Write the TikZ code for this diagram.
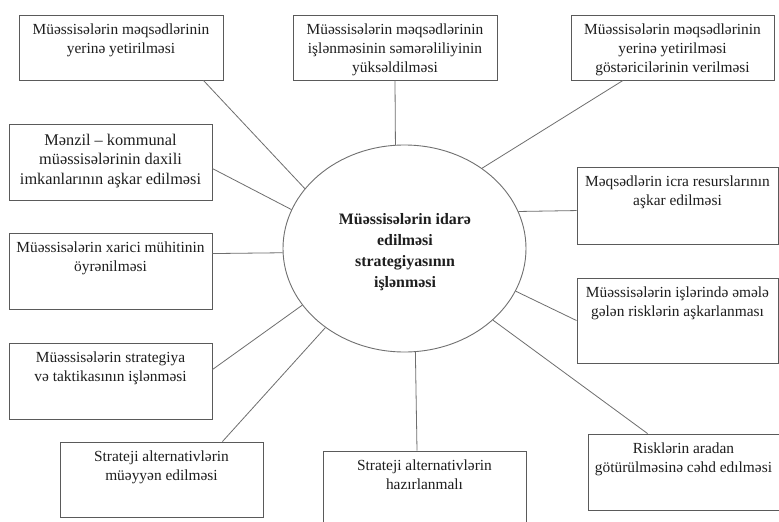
\documentclass[tikz,border=0pt]{standalone}
\usepackage{fontspec}
\setmainfont{Liberation Serif}
\usetikzlibrary{shapes.geometric}

\definecolor{boxgray}{HTML}{5A5A5A}
\definecolor{linegray}{HTML}{6E6E6E}
\definecolor{ellgray}{HTML}{707070}
\definecolor{inkblack}{HTML}{1E1E1E}

% empty framed box given by its corners: name, left, top, right, bottom
\newcommand\infobox[5]{%
  \node[boxframe, minimum width={#4-#2}, minimum height={#5-#3}]
    (#1) at ({(#2+#4)/2},{(#3+#5)/2}) {};}

\begin{document}
\begin{tikzpicture}[x=1pt, y=-1pt,
  boxframe/.style={draw=boxgray, line width=0.9pt, inner sep=0pt, rectangle, fill=white},
  boxtext/.style={anchor=north, inner sep=0pt, align=center, text=inkblack,
    font=\fontsize{15.4}{18.7}\selectfont},
  bigtext/.style={boxtext, font=\fontsize{16.3}{19.5}\selectfont},
  hubtext/.style={inner sep=0pt, align=center, text=inkblack,
    font=\fontsize{15.9}{21}\selectfont\bfseries},
  link/.style={draw=linegray, line width=0.8pt},
]
\clip (0,0) rectangle (779,522);
\fill[white] (0,0) rectangle (779,522);

% central ellipse
\node[ellipse, draw=ellgray, line width=0.9pt, minimum width=243pt,
      minimum height=207pt, inner sep=0pt] (c) at (404.5,248.5) {};
\node[hubtext] (ct) at (405,252)
  {Müəssisələrin idarə\\ edilməsi\\ strategiyasının\\ işlənməsi};

% surrounding boxes
\infobox{b1}{19}{15}{223}{80}
\infobox{b2}{293}{15}{497}{80}
\infobox{b3}{571}{15}{774}{80}
\infobox{b4}{9}{124}{212}{200}
\infobox{b5}{9}{233}{212}{309}
\infobox{b6}{9}{343}{212}{419}
\infobox{b7}{60}{442}{263}{517}
\infobox{b8}{323}{451}{526}{530}
\infobox{b9}{577}{167}{778}{244}
\infobox{b10}{577}{278}{778}{363}
\infobox{b11}{588}{434}{781}{510}

\node[boxtext] (t1) at ([yshift=-9.5pt]b1.north)
  {Müəssisələrin məqsədlərinin\\ yerinə yetirilməsi};
\node[boxtext] (t2) at ([yshift=-9.5pt]b2.north)
  {Müəssisələrin məqsədlərinin\\ işlənməsinin səmərəliliyinin\\ yüksəldilməsi};
\node[boxtext] (t3) at ([yshift=-9.5pt]b3.north)
  {Müəssisələrin məqsədlərinin\\ yerinə yetirilməsi\\ göstəricilərinin verilməsi};
\node[bigtext] (t4) at ([yshift=-10pt]b4.north)
  {Mənzil – kommunal\\ müəssisələrinin daxili\\ imkanlarının aşkar edilməsi};
\node[boxtext] (t5) at ([yshift=-9.5pt]b5.north)
  {Müəssisələrin xarici mühitinin\\ öyrənilməsi};
\node[boxtext] (t6) at ([yshift=-9.5pt]b6.north)
  {Müəssisələrin strategiya\\ və taktikasının işlənməsi};
\node[boxtext] (t7) at ([yshift=-9.5pt]b7.north)
  {Strateji alternativlərin\\ müəyyən edilməsi};
\node[boxtext] (t8) at ([yshift=-9.5pt]b8.north)
  {Strateji alternativlərin\\ hazırlanmalı};
\node[boxtext] (t9) at ([yshift=-9.5pt]b9.north)
  {Məqsədlərin icra resurslarının\\ aşkar edilməsi};
\node[boxtext] (t10) at ([yshift=-9.5pt]b10.north)
  {Müəssisələrin işlərində əmələ\\ gələn risklərin aşkarlanması};
\node[boxtext] (t11) at ([xshift=-1pt,yshift=-9.5pt]b11.north)
  {Risklərin aradan\\ götürülməsinə cəhd edılməsi};

% connectors from the boxes to the ellipse
\draw[link] ([xshift=-20pt]b1.south east) -- (c.149.2);
\draw[link] (b2.south) -- (c.95.3);
\draw[link] ([xshift=-49.5pt]b3.south) -- (c.46.4);
\draw[link] ([yshift=-45pt]b4.north east) -- (c.161.4);
\draw[link] ([yshift=-21pt]b5.north east) -- (c.182.6);
\draw[link] ([yshift=-27pt]b6.north east) -- (c.209.7);
\draw[link] ([xshift=-41pt]b7.north east) -- (c.225.7);
\draw[link] ([xshift=-7.5pt]b8.north) -- (c.276.9);
\draw[link] ([yshift=-44pt]b9.north west) -- (c.18.3);
\draw[link] ([yshift=-43pt]b10.north west) -- (c.339);
\draw[link] ([xshift=60pt]b11.north west) -- (c.321.7);
\end{tikzpicture}
\end{document}
